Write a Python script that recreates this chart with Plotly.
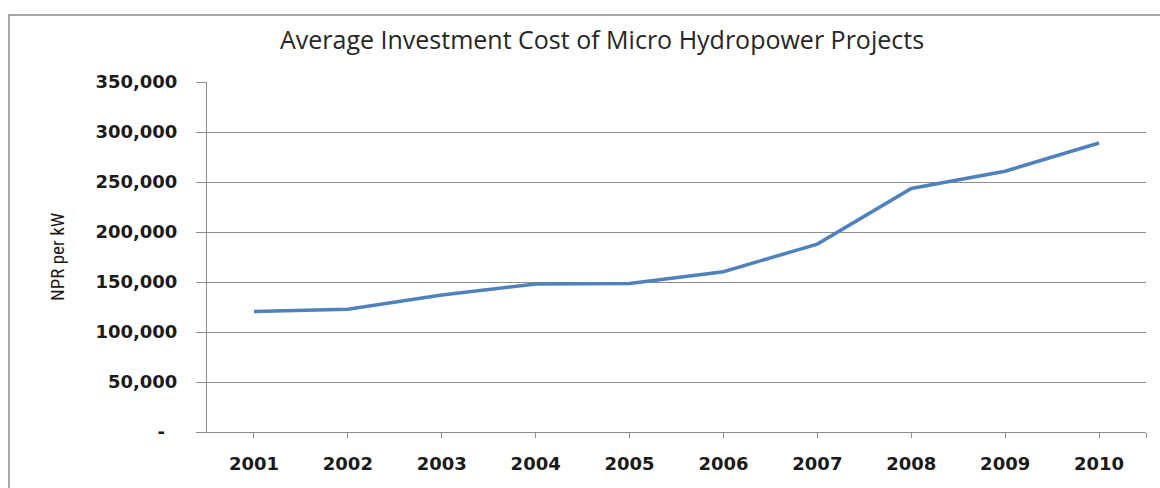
import plotly.graph_objects as go

years = [2001, 2002, 2003, 2004, 2005, 2006, 2007, 2008, 2009, 2010]
cost = [120400, 122800, 137000, 148000, 148500, 160300, 187900, 243500, 260800, 289000]
y_ticks = [0, 50000, 100000, 150000, 200000, 250000, 300000, 350000]
y_ticktext = ["-\u00a0\u00a0", "50,000", "100,000", "150,000", "200,000", "250,000", "300,000", "350,000"]
x_tickvals = years + [2010.5]
x_ticktext = [str(y) for y in years] + [""]

fig = go.Figure()
fig.add_trace(go.Scatter(x=years, y=cost, mode="lines",
                         line=dict(color="#4F81BD", width=3.5), showlegend=False))

grid = "#8c8c8c"
tickfont = dict(family="DejaVu Sans", size=18, color="#1a1a1a", weight="bold")

fig.update_layout(
    width=1160, height=488,
    margin=dict(l=207, r=14, t=82, b=56),
    paper_bgcolor="white", plot_bgcolor="white",
    title=dict(text="Average Investment Cost of Micro Hydropower Projects",
               x=602/1160, xanchor="center", y=1-40/488, yanchor="middle",
               font=dict(family="Open Sans", size=25, color="#262626")),
    xaxis=dict(range=[2000.5, 2010.5], tickvals=x_tickvals, ticktext=x_ticktext,
               showgrid=False, showline=True, linecolor=grid, linewidth=1,
               ticks="outside", ticklen=5, tickcolor=grid, tickfont=tickfont,
               ticklabelstandoff=10, zeroline=False),
    yaxis=dict(range=[0, 350000], tickvals=y_ticks, ticktext=y_ticktext,
               showgrid=True, gridcolor=grid, gridwidth=1,
               showline=True, linecolor=grid, linewidth=1,
               ticks="outside", ticklen=10, tickcolor=grid, tickfont=tickfont,
               ticklabelstandoff=15, zeroline=False),
    shapes=[dict(type="rect", xref="paper", yref="paper",
                 x0=(9-207)/939, x1=1.2, y0=-0.5, y1=(432-15)/350,
                 line=dict(color="#8a8a8a", width=1.5), fillcolor="rgba(0,0,0,0)", layer="below")],
    annotations=[dict(text="NPR per kW", xref="paper", yref="paper",
                      x=(57-207)/939, y=(432-257)/350, xanchor="center", yanchor="middle",
                      textangle=-90, showarrow=False,
                      font=dict(family="Liberation Sans Narrow, Roboto Condensed, Liberation Sans", size=19, color="#1a1a1a"))],
)

fig.write_html("out.html")
